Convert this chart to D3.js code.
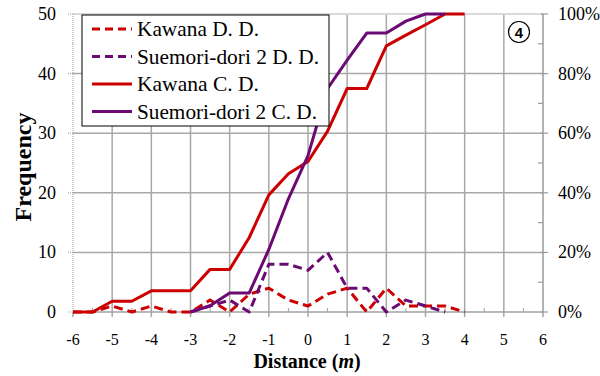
<!DOCTYPE html>
<html>
<head>
<meta charset="utf-8">
<script src="https://cdn.jsdelivr.net/npm/d3@7"></script>
<style>
  body { margin: 0; background: #fff; }
</style>
</head>
<body>
<div id="chart"></div>
<script>
// distances (m), half-metre steps
const kawanaX = [-6, -5.5, -5, -4.5, -4, -3.5, -3, -2.5, -2, -1.5, -1, -0.5, 0, 0.5, 1, 1.5, 2, 2.5, 3, 3.5, 4];
const kawanaDD = [0, 0, 1, 0, 1, 0, 0, 2, 0, 3, 4, 2, 1, 3, 4, 0, 4, 1, 1, 1, 0];
const kawanaCD = [0, 0, 3.6, 3.6, 7.1, 7.1, 7.1, 14.3, 14.3, 25, 39.3, 46.4, 50.5, 60.7, 75, 75, 89.3, 92.9, 96.4, 100, 100];

const suemoriX = [-3, -2.5, -2, -1.5, -1, -0.5, 0, 0.5, 1, 1.5, 2, 2.5, 3, 3.5];
const suemoriDD = [0, 1, 2, 0, 8, 8, 7, 10, 4, 4, 0, 2, 1, 0];
const suemoriCD = [0, 2.1, 6.4, 6.4, 21, 38, 52.5, 75, 84.5, 93.6, 93.6, 97.6, 100, 100];

const xTicks = [-6, -5, -4, -3, -2, -1, 0, 1, 2, 3, 4, 5, 6];
const freqTicks = [0, 10, 20, 30, 40, 50];
const pctTicks = [0, 20, 40, 60, 80, 100];

const series = [
  { name: "Kawana D. D.", xs: kawanaX, ys: kawanaDD, axis: "L", color: "#cc0000", dash: "9,5" },
  { name: "Suemori-dori 2 D. D.", xs: suemoriX, ys: suemoriDD, axis: "L", color: "#6b0a73", dash: "9,5" },
  { name: "Kawana C. D.", xs: kawanaX, ys: kawanaCD, axis: "R", color: "#cc0000", dash: null },
  { name: "Suemori-dori 2 C. D.", xs: suemoriX, ys: suemoriCD, axis: "R", color: "#6b0a73", dash: null }
];

const serif = "'Liberation Serif'";
const width = 600, height = 376;
const svg = d3.select("#chart").append("svg")
  .attr("width", width).attr("height", height);

const x = d3.scaleLinear().domain([-6, 6]).range([73, 543]);
const yL = d3.scaleLinear().domain([0, 50]).range([312, 14]);
const yR = d3.scaleLinear().domain([0, 100]).range([312, 14]);

// grid
const grid = svg.append("g").attr("stroke", "#a8a8a8").attr("stroke-width", 1.5);
grid.selectAll("line.v").data(xTicks.slice(1, -1)).enter().append("line")
  .attr("x1", d => x(d)).attr("x2", d => x(d))
  .attr("y1", yL(50)).attr("y2", yL(0) + 5);
grid.selectAll("line.h").data(freqTicks.slice(1, -1)).enter().append("line")
  .attr("x1", x(-6)).attr("x2", x(6))
  .attr("y1", d => yL(d)).attr("y2", d => yL(d));

// top edge
svg.append("line").attr("x1", x(-6)).attr("x2", x(6)).attr("y1", yL(50)).attr("y2", yL(50))
  .attr("stroke", "#dadada").attr("stroke-width", 2);

// bottom axis
svg.append("line").attr("x1", x(-6)).attr("x2", x(6)).attr("y1", yL(0)).attr("y2", yL(0))
  .attr("stroke", "#a0a0a0").attr("stroke-width", 1.5);
svg.append("g").selectAll("line").data(d3.range(-5.5, 6, 1)).enter().append("line")
  .attr("x1", d => x(d)).attr("x2", d => x(d))
  .attr("y1", yL(0)).attr("y2", yL(0) - 4)
  .attr("stroke", "#a0a0a0").attr("stroke-width", 1);
svg.append("g").selectAll("line").data([-6, 6]).enter().append("line")
  .attr("x1", d => x(d)).attr("x2", d => x(d))
  .attr("y1", yL(0)).attr("y2", yL(0) + 5)
  .attr("stroke", "#a0a0a0").attr("stroke-width", 1.5);

// left axis (dotted)
svg.append("line").attr("x1", x(-6)).attr("x2", x(-6)).attr("y1", yL(50)).attr("y2", yL(0))
  .attr("stroke", "#a0a0a0").attr("stroke-width", 1).attr("stroke-dasharray", "1,1");
svg.append("g").selectAll("line").data(d3.range(0, 51, 5)).enter().append("line")
  .attr("x1", x(-6)).attr("x2", d => x(-6) - (d % 10 === 0 ? 5 : 2))
  .attr("y1", d => yL(d)).attr("y2", d => yL(d))
  .attr("stroke", "#a0a0a0").attr("stroke-width", 1).attr("stroke-dasharray", "1,1");

// right axis
svg.append("line").attr("x1", x(6)).attr("x2", x(6)).attr("y1", yR(100)).attr("y2", yR(0))
  .attr("stroke", "#9a9a9a").attr("stroke-width", 1.5);
svg.append("g").selectAll("line").data(d3.range(0, 101, 10)).enter().append("line")
  .attr("x1", d => d % 20 === 0 ? x(6) - 2 : x(6) - 5)
  .attr("x2", d => d % 20 === 0 ? x(6) + 5 : x(6))
  .attr("y1", d => yR(d)).attr("y2", d => yR(d))
  .attr("stroke", "#9a9a9a").attr("stroke-width", 1.2);

// tick labels
svg.append("g").selectAll("text").data(freqTicks).enter().append("text")
  .attr("x", 56).attr("y", d => yL(d) + 6)
  .attr("text-anchor", "end")
  .style("font-family", serif).style("font-size", "18px")
  .text(d => d);
svg.append("g").selectAll("text").data(pctTicks).enter().append("text")
  .attr("x", 558).attr("y", d => yR(d) + 6)
  .style("font-family", serif).style("font-size", "18px")
  .text(d => d + "%");
svg.append("g").selectAll("text").data(xTicks).enter().append("text")
  .attr("x", d => x(d)).attr("y", 345)
  .attr("text-anchor", "middle")
  .style("font-family", serif).style("font-size", "16px")
  .text(d => d);

// axis titles
svg.append("text")
  .attr("transform", "translate(31,167) rotate(-90)")
  .attr("text-anchor", "middle")
  .style("font-family", serif).style("font-size", "24px").style("font-weight", "bold")
  .text("Frequency");
const xt = svg.append("text")
  .attr("x", 307).attr("y", 368)
  .attr("text-anchor", "middle")
  .style("font-family", serif).style("font-size", "20px").style("font-weight", "bold");
xt.append("tspan").text("Distance (");
xt.append("tspan").style("font-style", "italic").text("m");
xt.append("tspan").text(")");

// series
series.forEach(s => {
  const sc = s.axis === "L" ? yL : yR;
  const line = d3.line().x(d => x(d[0])).y(d => sc(d[1]));
  svg.append("path")
    .datum(s.xs.map((v, i) => [v, s.ys[i]]))
    .attr("d", line)
    .attr("fill", "none")
    .attr("stroke", s.color)
    .attr("stroke-width", 3)
    .attr("stroke-linejoin", "round")
    .attr("stroke-dasharray", s.dash);
});

// legend
const lg = svg.append("g");
lg.append("rect").attr("x", 82).attr("y", 15).attr("width", 247).attr("height", 111)
  .attr("fill", "#fff").attr("stroke", "#000").attr("stroke-width", 1);
const textW = [122, 182, 122, 180];
series.forEach((s, i) => {
  const yy = 29 + i * 27.5;
  lg.append("line").attr("x1", 92).attr("x2", 132).attr("y1", yy).attr("y2", yy)
    .attr("stroke", s.color).attr("stroke-width", 3)
    .attr("stroke-dasharray", s.dash ? "8,5" : null);
  lg.append("text").attr("x", 137).attr("y", yy + 7)
    .style("font-family", serif).style("font-size", "21px")
    .attr("textLength", textW[i]).attr("lengthAdjust", "spacingAndGlyphs")
    .text(s.name);
});

// panel number
svg.append("circle").attr("cx", 519).attr("cy", 32).attr("r", 10.5)
  .attr("fill", "#fff").attr("stroke", "#000").attr("stroke-width", 1.2);
svg.append("text").attr("x", 519).attr("y", 37.5)
  .attr("text-anchor", "middle")
  .style("font-family", "'Liberation Sans'")
  .style("font-size", "15px").style("font-weight", "bold")
  .text("4");
</script>
</body>
</html>
